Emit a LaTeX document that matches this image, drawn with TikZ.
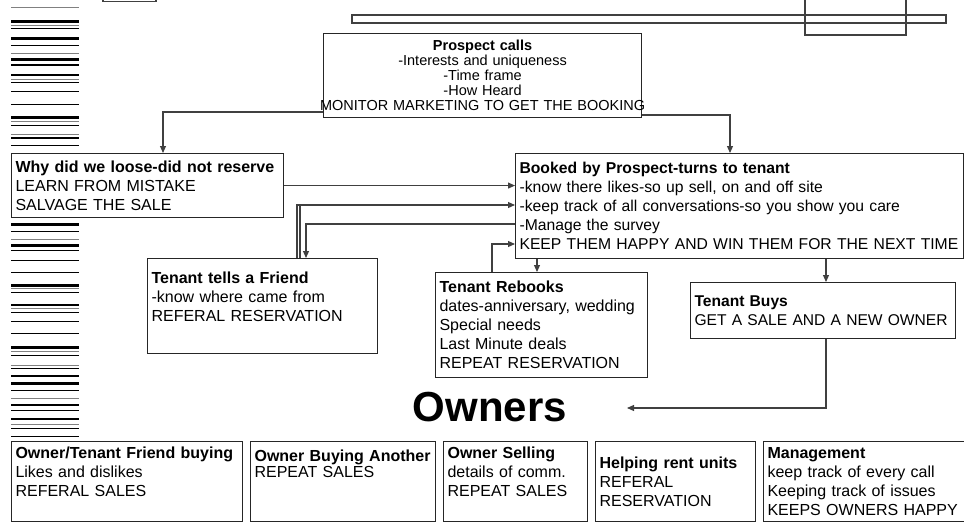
\documentclass[tikz,border=0pt]{standalone}
\usepackage{fontspec}
\setmainfont{Liberation Sans}
\usetikzlibrary{arrows.meta}

\begin{document}
\begin{tikzpicture}[x=1pt, y=-1pt,
  card/.style={draw=black!85, line width=1.1pt, rectangle, anchor=north west,
    align=left, inner xsep=4pt, inner ysep=0pt, font=\fontsize{16}{19}\selectfont},
  link/.style={draw=black!75, line width=1.1pt, -{Triangle[length=7pt,width=6pt]}},
  wire/.style={draw=black!75, line width=1.1pt}]

  \useasboundingbox (0,0) rectangle (964,522);

  % stripes at the left margin
  \foreach \y/\w/\c in {7.3/1/gray, 21.5/2.2/black, 25/1/gray, 28.7/1.3/black,
      38.5/2.2/black, 45.5/1.5/black, 53.3/1/gray, 59.5/2.2/black, 65/1.3/black,
      75/2.2/black, 79.3/1/gray, 82.3/1.3/black, 91.3/1/black, 104/1/black,
      117.5/2.2/black, 121.3/1/gray, 125.3/1.3/black, 134.7/1/gray, 138/1.3/black,
      145.7/1/black,
      224.5/2.2/black, 231.7/1/black, 239/1/gray, 245.5/2.2/black, 250.7/1/black,
      260/1/black, 272.5/1/black, 285.5/2.2/black, 288.5/1/gray, 292.7/1/black,
      305/2.2/black, 308.5/1/gray, 312/1/black, 321.7/1/black, 333.3/1/black,
      347.5/2.2/black, 351/1/gray, 355.5/1.3/black, 365/1/gray, 368/1/black,
      376/1.3/black, 383.5/2.2/black, 390/1/black, 398.7/1/gray, 405/2.2/black,
      410/1/black, 419/2.2/black, 424.5/1/gray, 428.3/1.3/black, 436.7/1/black}
    {
      \draw[line width=\w pt, \c] (11,\y) -- (79,\y);
    }

  % boxes cut at the top edge
  \draw[wire] (103,-10) rectangle (156,1.5);
  \draw[wire] (352,15) rectangle (946,23);
  \draw[wire] (805,-10) rectangle (906,35);

  % prospect and tenant
  \node[card, align=center, text width=310, minimum height=84,
    font=\fontsize{14.5}{15}\selectfont] (prospect) at (323,33)
    {\textbf{Prospect calls}\\ -Interests and uniqueness\\ -Time frame\\ -How Heard\\
    \makebox[0pt]{MONITOR MARKETING TO GET THE BOOKING}};
  \node[card, text width=264, minimum height=64] (why) at (11,153)
    {\textbf{Why did we loose-did not reserve}\\ LEARN FROM MISTAKE\\ SALVAGE THE SALE};
  \node[card, text width=440, minimum height=105,
    font=\fontsize{15.7}{19}\selectfont] (booked) at (515,153)
    {\textbf{Booked by Prospect-turns to tenant}\\
    -know there likes-so up sell, on and off site\\
    -keep track of all conversations-so you show you care\\
    -Manage the survey\\
    \mbox{KEEP THEM HAPPY AND WIN THEM FOR THE NEXT TIME}};
  \node[card, text width=222, minimum height=95] (friend) at (147,258)
    {\textbf{Tenant tells a Friend}\\ -know where came from\\ REFERAL RESERVATION\\ \mbox{}};
  \node[card, text width=204, minimum height=105] (rebooks) at (435,272)
    {\textbf{Tenant Rebooks}\\ dates-anniversary, wedding\\ Special needs\\
    Last Minute deals\\ REPEAT RESERVATION};
  \node[card, text width=257, minimum height=56,
    font=\fontsize{15.6}{19}\selectfont] (buys) at (690,282)
    {\textbf{Tenant Buys}\\ \mbox{GET A SALE AND A NEW OWNER}};

  % owners
  \node[font=\bfseries\fontsize{42}{46}\selectfont] (owners) at (490,407) {Owners};
  \coordinate (ownerstip) at (627,408);

  \node[card, text width=223, minimum height=80] (friendbuy) at (11,441)
    {\textbf{Owner/Tenant Friend buying}\\ Likes and dislikes\\ REFERAL SALES\\ \mbox{}};
  \node[card, text width=177, minimum height=80,
    font=\fontsize{16}{12}\selectfont] (another) at (250,441)
    {\mbox{\textbf{Owner Buying Another}}\\ REPEAT SALES\\ \mbox{}\\ \mbox{}\\ \mbox{}};
  \node[card, text width=136, minimum height=80] (selling) at (443,441)
    {\textbf{Owner Selling}\\ details of comm.\\ REPEAT SALES\\ \mbox{}};
  \node[card, text width=152, minimum height=80] (helping) at (595,441)
    {\textbf{Helping rent units}\\ REFERAL\\ RESERVATION};
  \node[card, text width=193, minimum height=80] (management) at (763,441)
    {\textbf{Management}\\ keep track of every call\\ Keeping track of issues\\
    \mbox{KEEPS OWNERS HAPPY}};

  % connectors
  \draw[link] (prospect.west |- 0,112) -| (why.north -| 163,0);
  \draw[link] (prospect.east |- 0,115) -| (booked.north -| 730,0);
  \draw[link] (why.east) -- (booked.west |- why.east);
  \draw[link] (friend.north -| 297,0) |- (booked.west |- 0,205);
  \draw[wire] (friend.north -| 300,0) -- (300,205);
  \draw[link] (booked.west |- 0,224) -| (friend.north -| 306,0);
  \draw[link] (booked.south -| 537,0) -- (rebooks.north -| 537,0);
  \draw[link] (rebooks.north -| 492,0) |- (booked.west |- 0,244);
  \draw[link] (booked.south -| 826,0) -- (buys.north -| 826,0);
  \draw[link] (buys.south -| 826,0) |- (ownerstip);
\end{tikzpicture}
\end{document}
